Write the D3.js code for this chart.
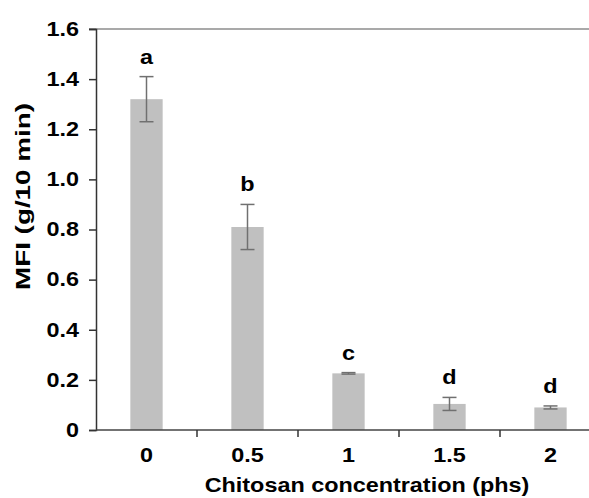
<!DOCTYPE html>
<html>
<head>
<meta charset="utf-8">
<script src="https://cdn.jsdelivr.net/npm/d3@7/dist/d3.min.js"></script>
<style>
  html, body { margin: 0; padding: 0; background: #fff; }
  svg { display: block; font-family: Arial, "Liberation Sans", sans-serif; }
</style>
</head>
<body>
<svg id="chart" width="589" height="498"></svg>
<script>
// MFI of blends at each chitosan loading (phs)
const categories = ["0", "0.5", "1", "1.5", "2"];
const mfiMean = [1.32, 0.81, 0.226, 0.104, 0.09];
const mfiErr = [0.09, 0.09, 0.003, 0.026, 0.006];
const groupLetters = ["a", "b", "c", "d", "d"];
const yTicks = [0, 0.2, 0.4, 0.6, 0.8, 1.0, 1.2, 1.4, 1.6];

const svg = d3.select("#chart");
const plotLeft = 96, plotRight = 601, plotTop = 29, plotBottom = 430;
const FS = 19.5, SX = 1.2;   // label font size and horizontal widening

const x = d3.scaleBand().domain(categories).range([plotLeft, plotRight]).paddingInner(0.68).paddingOuter(0.34);
const y = d3.scaleLinear().domain([0, 1.6]).range([plotBottom, plotTop]);
const cx = d => x(d) + x.bandwidth() / 2;

// widened bold label placed at (px, py)
function label(g, px, py, txt, anchor) {
  return g.append("text")
    .attr("transform", `translate(${px},${py}) scale(${SX},1)`)
    .attr("text-anchor", anchor || "middle")
    .attr("font-size", FS).attr("font-weight", "bold").attr("fill", "#000")
    .text(txt);
}

// top reference line at the axis maximum
svg.append("line")
  .attr("x1", plotLeft - 7).attr("x2", 589)
  .attr("y1", y(1.6)).attr("y2", y(1.6))
  .attr("stroke", "#8c8c8c").attr("stroke-width", 1.5);

// bars
svg.selectAll("rect.bar").data(categories).join("rect")
  .attr("class", "bar")
  .attr("x", d => x(d))
  .attr("width", x.bandwidth())
  .attr("y", (d, i) => y(mfiMean[i]))
  .attr("height", (d, i) => plotBottom - y(mfiMean[i]))
  .attr("fill", "#c0c0c0");

// error bars
const eb = svg.selectAll("g.err").data(categories).join("g").attr("class", "err")
  .attr("stroke", "#707070").attr("stroke-width", 1.5);
eb.append("line")
  .attr("x1", cx).attr("x2", cx)
  .attr("y1", (d, i) => y(mfiMean[i] + mfiErr[i])).attr("y2", (d, i) => y(mfiMean[i] - mfiErr[i]));
eb.append("line")
  .attr("x1", d => cx(d) - 7).attr("x2", d => cx(d) + 7)
  .attr("y1", (d, i) => y(mfiMean[i] + mfiErr[i])).attr("y2", (d, i) => y(mfiMean[i] + mfiErr[i]));
eb.append("line")
  .attr("x1", d => cx(d) - 7).attr("x2", d => cx(d) + 7)
  .attr("y1", (d, i) => y(mfiMean[i] - mfiErr[i])).attr("y2", (d, i) => y(mfiMean[i] - mfiErr[i]));

// significance letters
const letters = svg.append("g");
categories.forEach((d, i) => label(letters, cx(d), y(mfiMean[i] + mfiErr[i]) - 13, groupLetters[i]));

// y axis
const yAxis = svg.append("g").attr("transform", `translate(${plotLeft},0)`)
  .call(d3.axisLeft(y).tickValues(yTicks).tickSize(7).tickPadding(10)
    .tickFormat(d => d === 0 ? "0" : d3.format(".1f")(d)));
yAxis.select(".domain").attr("stroke", "#333").attr("stroke-width", 1.5);
yAxis.selectAll(".tick line").attr("stroke", "#333").attr("stroke-width", 1.5);
yAxis.selectAll(".tick text")
  .attr("x", -17 / SX).attr("transform", `scale(${SX},1)`)
  .attr("font-size", FS).attr("font-weight", "bold")
  .attr("fill", "#000").attr("font-family", "Arial, 'Liberation Sans', sans-serif");

// x axis: category boundaries carry the ticks, labels centred in each band
const boundaries = categories.slice(1).map(d => x(d) - x.step() * x.paddingInner() / 2);
const xg = svg.append("g");
xg.append("line")
  .attr("x1", plotLeft).attr("x2", 589).attr("y1", plotBottom).attr("y2", plotBottom)
  .attr("stroke", "#444").attr("stroke-width", 1.5);
xg.selectAll("line.tk").data(boundaries).join("line").attr("class", "tk")
  .attr("x1", d => d).attr("x2", d => d).attr("y1", plotBottom).attr("y2", plotBottom + 7)
  .attr("stroke", "#333").attr("stroke-width", 1.5);
categories.forEach(d => label(xg, cx(d), plotBottom + 32, d));

// axis titles
label(svg, 367, 492, "Chitosan concentration (phs)");
svg.append("text")
  .attr("transform", "translate(30,196.5) rotate(-90)")
  .attr("text-anchor", "middle")
  .attr("font-size", 21).attr("font-weight", "bold").attr("fill", "#000")
  .attr("textLength", 187).attr("lengthAdjust", "spacingAndGlyphs")
  .text("MFI (g/10 min)");
</script>
</body>
</html>
